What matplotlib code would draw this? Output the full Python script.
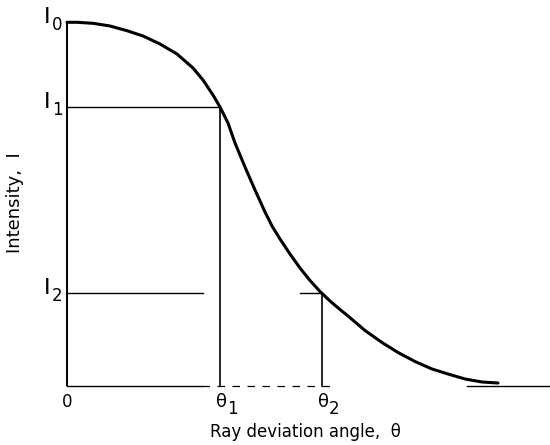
import matplotlib
matplotlib.use("Agg")
import matplotlib.pyplot as plt

plt.rcParams['font.family'] = ['DejaVu Sans']

# Curve (arbitrary units)
curve_x = [0.00, 0.10, 0.26, 0.43, 0.60, 0.76, 0.93, 1.10, 1.26, 1.36, 1.46,
           1.53, 1.56, 1.61, 1.68, 1.78, 1.88, 1.98, 2.05, 2.13, 2.23, 2.33,
           2.43, 2.53, 2.63, 2.73, 2.81, 2.98, 3.15, 3.31, 3.48, 3.65, 3.81,
           3.98, 4.15, 4.31]
curve_y = [3.637, 3.637, 3.627, 3.60, 3.553, 3.50, 3.42, 3.32, 3.18, 3.06, 2.91,
           2.79, 2.73, 2.63, 2.43, 2.19, 1.96, 1.74, 1.60, 1.47, 1.32, 1.18,
           1.055, 0.945, 0.85, 0.765, 0.70, 0.555, 0.435, 0.335, 0.245, 0.17,
           0.12, 0.07, 0.04, 0.03]

I_levels = [3.637, 2.79, 0.93]          # I0, I1, I2
I_names = ['0', '1', '2']
theta_vals = [0.0, 1.53, 2.55]           # 0, theta1, theta2
theta_names = ['0', '1', '2']
x_end = 4.83

fig = plt.figure(figsize=(5.5, 4.45), dpi=100)
ax = fig.add_axes([0, 0, 1, 1])
ax.set_xlim(-0.67, 4.83)
ax.set_ylim(-0.59, 3.86)
ax.axis('off')

k = 'black'
# y axis
ax.plot([0, 0], [0, I_levels[0]], color=k, lw=1.4, solid_capstyle='butt')
# baseline (partly broken as in the scan)
ax.plot([0, 1.35], [0, 0], color=k, lw=1.0)
ax.plot([1.35, 2.65], [0, 0], color=k, lw=0.9, ls=(0, (6, 6)))
ax.plot([4.0, x_end], [0, 0], color=k, lw=1.0)
# horizontal reference lines
ax.plot([0, theta_vals[1]], [I_levels[1], I_levels[1]], color=k, lw=1.0)
ax.plot([0, 1.36], [I_levels[2], I_levels[2]], color=k, lw=1.0)
ax.plot([2.33, theta_vals[2]], [I_levels[2], I_levels[2]], color=k, lw=1.0)
# vertical reference lines
ax.plot([theta_vals[1]] * 2, [0, I_levels[1]], color=k, lw=1.2)
ax.plot([theta_vals[2]] * 2, [0, I_levels[2]], color=k, lw=1.2)
# curve
ax.plot(curve_x, curve_y, color=k, lw=2.2, solid_joinstyle='round', solid_capstyle='round')

fs_big = 16
fs_sub = 12
# I labels
for lv, nm in zip(I_levels, I_names):
    ax.text(-0.165, lv + 0.05, 'I', ha='right', va='center', fontsize=fs_big)
    ax.text(-0.15, lv - 0.03, nm, ha='left', va='center', fontsize=fs_sub)
# theta labels
ax.text(theta_vals[0], -0.07, theta_names[0], ha='center', va='top', fontsize=fs_sub)
for tv, nm in zip(theta_vals[1:], theta_names[1:]):
    ax.text(tv + 0.07, -0.07, '\u03b8', ha='right', va='top', fontsize=fs_sub + 1)
    ax.text(tv + 0.07, -0.14, nm, ha='left', va='top', fontsize=fs_sub)

ax.text(2.38, -0.46, 'Ray deviation angle,  \u03b8', ha='center', va='center', fontsize=12)
ax.text(-0.52, 1.83, 'Intensity,  I', ha='center', va='center', rotation=90, fontsize=13)

fig.savefig('out.png', dpi=100)
